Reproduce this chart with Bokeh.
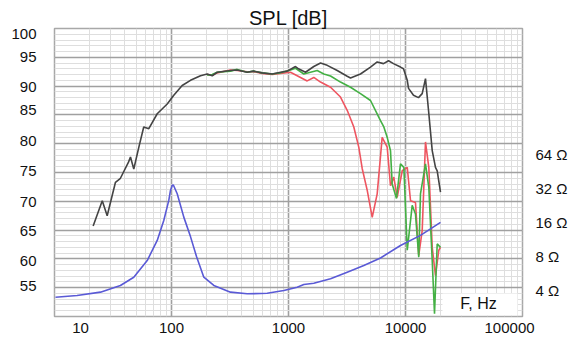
from bokeh.plotting import figure
from bokeh.models import (FixedTicker, Range1d, LogScale, LogAxis, Label, BoxAnnotation)
from bokeh.embed import file_html
from bokeh.resources import INLINE

# ---------------- data ----------------
spl_black_f = [21.4, 25.6, 28.2, 33.2, 36.6, 42.9, 44.6, 47.6, 52.6, 57.9, 64.0, 75.5, 91.9,
               104.6, 123.4, 145.3, 177, 201.8, 222.8, 245.8, 319.4, 364.3, 443.6, 502, 596,
               725.6, 854.5, 975, 1148, 1218, 1397, 1645, 1878, 2143, 2609, 3175, 3388, 4122,
               5023, 5728, 6486, 7161, 7889, 9057, 9616, 10350, 10620, 11700, 12910, 13890,
               14820, 15730, 16920, 18040, 18660, 19910]
spl_black_db = [65.7, 70.1, 67.5, 73.3, 74.0, 76.8, 77.7, 75.6, 79.4, 82.9, 82.6, 85.2, 86.9,
                88.4, 90.1, 91.0, 91.8, 92.1, 91.8, 92.4, 92.7, 92.8, 92.4, 92.6, 92.3,
                92.1, 92.4, 92.6, 93.4, 93.0, 92.4, 93.4, 94.0, 93.6, 92.7, 91.7, 91.4, 92.1,
                93.3, 94.2, 93.9, 94.4, 93.9, 93.3, 93.0, 91.0, 89.6, 88.4, 88.0, 88.7,
                91.3, 85.8, 78.8, 75.9, 75.3, 71.6]

spl_red_f = [201.8, 222.8, 245.8, 319.4, 364.3, 443.6, 502, 596, 725.6, 854.5, 1040, 1267,
             1445, 1645, 1878, 2287, 2782, 3175, 3616, 3987, 4264, 4709, 5193, 5728, 6318,
             6976, 7443, 7943, 8492, 9376, 10350, 11040, 12170, 12980, 13890, 14820, 15820,
             16920, 18040, 19260, 19910]
spl_red_db = [92.0, 91.9, 92.3, 92.8, 92.7, 92.5, 92.5, 92.2, 92.0, 92.2, 92.4, 91.5,
              90.9, 91.5, 90.7, 89.8, 88.1, 85.8, 82.9, 79.4, 75.7, 71.9, 67.2, 71.3, 81.1,
              79.4, 72.7, 74.2, 70.7, 75.3, 75.9, 70.1, 69.8, 60.6, 64.9, 80.3, 75.9,
              62.0, 57.1, 61.5, 62.0]

spl_green_f = [201.8, 222.8, 245.8, 319.4, 364.3, 443.6, 502, 596, 725.6, 854.5, 1040, 1148,
               1352, 1542, 1758, 2004, 2287, 2782, 3388, 4122, 5023, 6113, 6530, 6976, 7443,
               7694, 8375, 9057, 9683, 10350, 11410, 12170, 12980, 13430, 14820, 15820,
               16920, 17700, 18660, 19910]
spl_green_db = [91.9, 92.0, 92.4, 92.6, 92.9, 92.4, 92.6, 92.3, 92.1, 92.3, 92.8, 93.1,
                92.1, 92.4, 92.7, 92.1, 91.75, 90.7, 89.8, 88.7, 87.5, 84.0, 82.9, 81.1, 78.8,
                73.0, 70.5, 76.5, 75.9, 61.5, 69.3, 67.8, 60.3, 71.3, 76.5, 72.4,
                59.7, 50.5, 62.6, 62.0]

imp_f = [10.2, 15.6, 24.7, 36.6, 47.6, 62.0, 75.5, 85.9, 94.8, 98.0, 101.4, 103.5, 111.9,
         127.4, 145.3, 163.6, 188.9, 230, 319.4, 443.6, 657.6, 912.5, 1186, 1352, 1645,
         2287, 3175, 4404, 6113, 9057, 13430, 19910]
imp_ohm = [3.52, 3.64, 3.90, 4.47, 5.29, 7.43, 11.2, 16.8, 25.3, 31.0, 34.3, 34.8, 29.0,
           18.0, 12.1, 8.07, 5.29, 4.47, 3.90, 3.77, 3.81, 4.03, 4.31, 4.56, 4.68,
           5.12, 5.86, 6.71, 7.83, 10.1, 12.4, 16.2]

y_tick_labels = ["55", "60", "65", "70", "75", "80", "85", "90", "95", "100"]
x_tick_labels = ["10", "100", "1000", "10000", "100000"]
ohm_ticks = [4, 8, 16, 32, 64]
ohm_tick_labels = ["4 Ω", "8 Ω", "16 Ω", "32 Ω", "64 Ω"]

# ---------------- layout constants ----------------
y_label_pos = [55.3, 59.7, 64.8, 69.8, 75.2, 80.4, 85.8, 89.8, 95.0, 99.1]
x_label_pos = [16.7, 100, 1000, 10000, 77500]
FONT = "Liberation Sans"

p = figure(width=579, height=340, x_axis_type="log",
           x_range=Range1d(10, 100000), y_range=Range1d(50, 100),
           output_backend="svg", toolbar_location=None,
           min_border_left=54, min_border_right=57, min_border_top=28, min_border_bottom=24,
           background_fill_color="white", border_fill_color="white",
           title="SPL [dB]")
p.title.align = "center"
p.title.text_font = FONT
p.title.text_font_size = "20px"
p.title.text_font_style = "normal"
p.title.text_color = "#111111"
p.title.standoff = 0
p.title.offset = 0

p.outline_line_color = "#a8a8a8"
p.outline_line_width = 1.5

p.extra_y_ranges = {"imp": Range1d(2.374, 842)}
p.extra_y_scales = {"imp": LogScale()}

# grids
decades = [10, 100, 1000, 10000, 100000]
minor_x = [m * d for d in [10, 100, 1000, 10000] for m in range(2, 10)]
p.xgrid.ticker = FixedTicker(ticks=decades, minor_ticks=minor_x)
p.ygrid.ticker = FixedTicker(ticks=list(range(50, 101, 5)), minor_ticks=list(range(50, 101)))
for g in (p.xgrid, p.ygrid):
    g.grid_line_color = "#a0a0a0"
    g.grid_line_width = 1.6
    g.minor_grid_line_color = "#dedede"
    g.minor_grid_line_width = 1

# bottom axis
p.xaxis.ticker = FixedTicker(ticks=x_label_pos)
p.xaxis.major_label_overrides = {v: t for v, t in zip(x_label_pos, x_tick_labels)}
p.xaxis.major_label_standoff = 6
# left axis
p.yaxis.ticker = FixedTicker(ticks=y_label_pos)
p.yaxis.major_label_overrides = {v: t for v, t in zip(y_label_pos, y_tick_labels)}
p.yaxis.major_label_standoff = 18

# right axis
raxis = LogAxis(y_range_name="imp", ticker=FixedTicker(ticks=ohm_ticks))
raxis.major_label_overrides = {v: t for v, t in zip(ohm_ticks, ohm_tick_labels)}
raxis.major_label_standoff = 13
p.add_layout(raxis, "right")

for ax in (p.xaxis[0], p.yaxis[0], raxis):
    ax.axis_line_color = None
    ax.major_tick_line_color = None
    ax.minor_tick_line_color = None
    ax.major_tick_out = 0
    ax.major_tick_in = 0
    ax.major_label_text_font = FONT
    ax.major_label_text_font_size = "15px"
    ax.major_label_text_color = "#111111"

# curves
p.line(spl_red_f, spl_red_db, line_color="#ee5560", line_width=1.6)
p.line(spl_green_f, spl_green_db, line_color="#44b044", line_width=1.6)
p.line(spl_black_f, spl_black_db, line_color="#444444", line_width=1.6)
p.line(imp_f, imp_ohm, line_color="#5a5ad6", line_width=1.6, y_range_name="imp")

# annotations
p.add_layout(BoxAnnotation(left=20700, right=90600, bottom=50.2, top=54.0,
                           fill_color="white", fill_alpha=1.0, line_color=None))
p.add_layout(Label(x=42070, y=52.26, text="F, Hz", text_align="center", text_baseline="middle",
                   text_font=FONT, text_font_size="16px", text_color="#111111"))

open("out.html", "w").write(file_html(p, INLINE))
